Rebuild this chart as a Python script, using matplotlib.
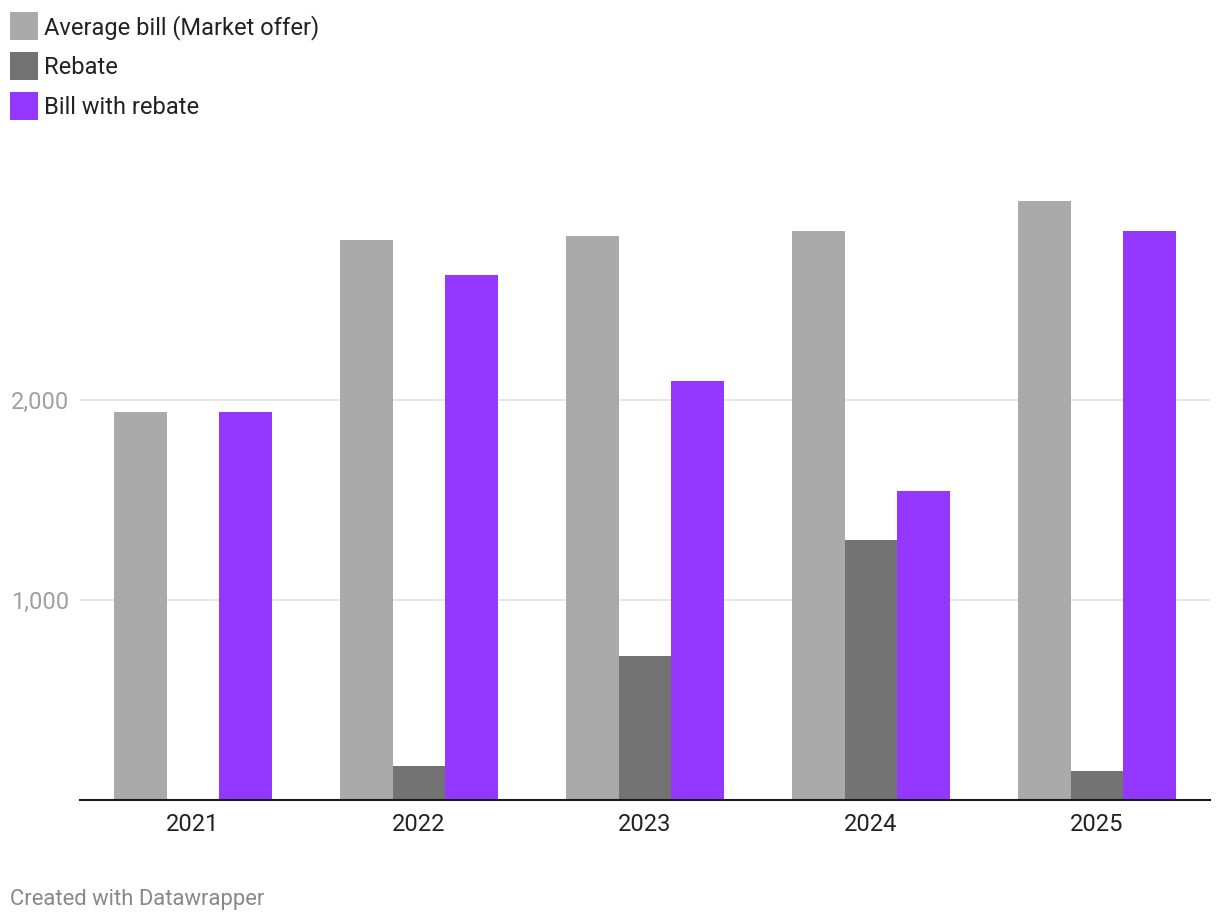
import matplotlib
matplotlib.use('Agg')
import matplotlib.pyplot as plt
from matplotlib.patches import Rectangle
import numpy as np

plt.rcParams['font.family'] = ['Roboto', 'DejaVu Sans']

# ===== Data =====
years = ['2021', '2022', '2023', '2024', '2025']
avg_bill = [1940, 2800, 2820, 2845, 2995]
rebate = [0, 170, 720, 1300, 145]
bill_with_rebate = [1940, 2625, 2095, 1545, 2845]

series = ['Average bill (Market offer)', 'Rebate', 'Bill with rebate']
colors = ['#aaaaaa', '#737373', '#9437ff']

W, H = 1220, 922
fig = plt.figure(figsize=(W / 100, H / 100), dpi=100)
ax = fig.add_axes([80 / W, (H - 800) / H, 1130 / W, 600 / H])

x = np.arange(len(years))
bw = 0.232
for i, (vals, c) in enumerate(zip([avg_bill, rebate, bill_with_rebate], colors)):
    ax.bar(x + (i - 1) * bw, vals, width=bw, color=c, linewidth=0, zorder=3)

ax.set_xlim(-0.5, len(years) - 0.5)
ax.set_ylim(0, 3000)
ax.set_yticks([1000, 2000])
ax.set_yticklabels(['1,000', '2,000'])
ax.set_xticks(x)
ax.set_xticklabels(years)
ax.grid(axis='y', color='#e2e2e2', linewidth=1.2, zorder=0)
for s in ['top', 'right', 'left']:
    ax.spines[s].set_visible(False)
ax.spines['bottom'].set_color('#1a1a1a')
ax.spines['bottom'].set_linewidth(1.5)
ax.spines['bottom'].set_zorder(4)
ax.tick_params(axis='y', length=0, labelsize=17, labelcolor='#a0a0a0', pad=8)
ax.tick_params(axis='x', length=0, labelsize=17, labelcolor='#222222', pad=9)

# Legend (manual, top-left)
for i, (name, c) in enumerate(zip(series, colors)):
    yc = 26 + i * 40
    fig.add_artist(Rectangle((10 / W, (H - yc - 14) / H), 28 / W, 28 / H,
                             transform=fig.transFigure, color=c, linewidth=0))
    fig.text(44 / W, (H - yc - 2) / H, name, fontsize=17, color='#222222',
             va='center', ha='left')

fig.text(10 / W, (H - 899) / H, 'Created with Datawrapper', fontsize=15.8,
         color='#888888', va='center', ha='left')

fig.savefig('out.png', dpi=100, facecolor='white')
